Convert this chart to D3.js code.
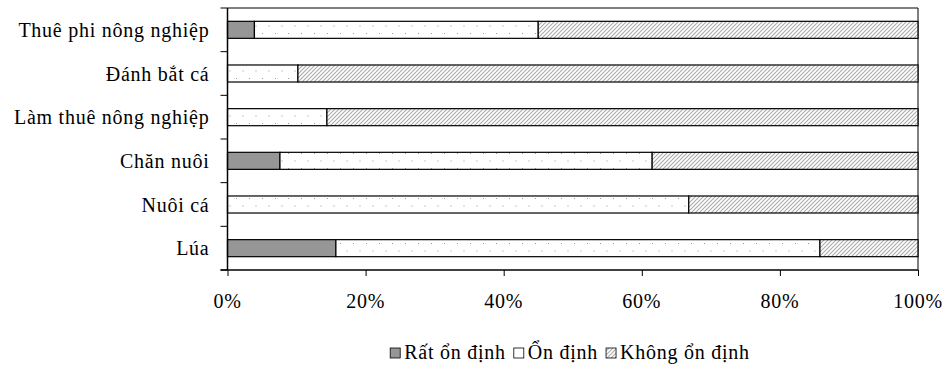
<!DOCTYPE html>
<html><head><meta charset="utf-8">
<script src="https://cdn.jsdelivr.net/npm/d3@7"></script>
<style>body{margin:0;background:#fff}svg{display:block}</style>
</head><body><svg id="c" width="948" height="367"></svg>
<script>
const categories = ["Thuê phi nông nghiệp","Đánh bắt cá","Làm thuê nông nghiệp","Chăn nuôi","Nuôi cá","Lúa"];
const seriesNames = ["Rất ổn định","Ổn định","Không ổn định"];
const ratOnDinh = [3.9, 0, 0, 7.6, 0, 15.7];
const onDinh = [41.1, 10.2, 14.4, 53.9, 66.8, 70.1];
const khongOnDinh = [55.0, 89.8, 85.6, 38.5, 33.2, 14.2];
const xTicks = [0, 0.2, 0.4, 0.6, 0.8, 1.0];

const FONT = "Liberation Serif";
const FS = 20, LS = 0.75;
const svg = d3.select("#c");
const m = {l:227.5, r:918, t:8, b:270};
const defs = svg.append("defs");
const dots = defs.append("pattern").attr("id","dots").attr("patternUnits","userSpaceOnUse").attr("width",13).attr("height",15);
dots.append("rect").attr("width",13).attr("height",15).attr("fill","#fff");
dots.append("rect").attr("x",2).attr("y",3).attr("width",1).attr("height",1).attr("fill","#999");
dots.append("rect").attr("x",8.5).attr("y",10.5).attr("width",1).attr("height",1).attr("fill","#999");
const hatch = defs.append("pattern").attr("id","hatch").attr("patternUnits","userSpaceOnUse").attr("width",4).attr("height",4);
hatch.append("rect").attr("width",4).attr("height",4).attr("fill","#fff");
hatch.append("path").attr("d","M-1,1 L1,-1 M0,4 L4,0 M3,5 L5,3").attr("stroke","#aaa").attr("stroke-width",1.1);

const fills = ["#969696","url(#dots)","url(#hatch)"];
const x = d3.scaleLinear().domain([0,1]).range([m.l,m.r]);
const y = d3.scaleBand().domain(categories).range([m.t,m.b]).paddingInner(0.61).paddingOuter(0.305);

const rows = categories.map((c,i)=>({cat:c, 0:ratOnDinh[i], 1:onDinh[i], 2:khongOnDinh[i]}));
const stack = d3.stack().keys([0,1,2]).offset(d3.stackOffsetExpand)(rows);

svg.append("path").attr("d",`M${m.l},${m.t}H${m.r}V${m.b}`).attr("fill","none").attr("stroke","#000").attr("stroke-width",1);

stack.forEach((s,k)=>{
  svg.append("g").selectAll("rect").data(s.filter(d=>d[1]-d[0]>0)).join("rect")
    .attr("x",d=>x(d[0])).attr("width",d=>x(d[1])-x(d[0]))
    .attr("y",d=>y(d.data.cat)).attr("height",y.bandwidth())
    .attr("fill",fills[k]).attr("stroke","#000").attr("stroke-width",1.2);
});

function label(sel, tx, ty, anchor, txt){
  return sel.append("text").attr("x",tx).attr("y",ty)
    .attr("text-anchor",anchor).attr("font-family",FONT).attr("font-size",FS)
    .attr("letter-spacing",LS).attr("fill","#000").text(txt);
}

// y axis
const yBounds = d3.range(categories.length+1).map(i=>m.t + i*y.step());
const ya = svg.append("g");
ya.append("line").attr("x1",m.l).attr("x2",m.l).attr("y1",m.t).attr("y2",m.b).attr("stroke","#000").attr("stroke-width",1.5);
ya.selectAll("line.t").data(yBounds).join("line").attr("class","t").attr("x1",m.l-7).attr("x2",m.l).attr("y1",d=>d).attr("y2",d=>d).attr("stroke","#000");
categories.forEach(c=>label(ya, m.l-18, y(c)+y.bandwidth()/2+7, "end", c));

// x axis
const xa = svg.append("g").attr("transform",`translate(0,${m.b})`)
  .call(d3.axisBottom(x).tickValues(xTicks).tickFormat("").tickSize(6));
xa.select(".domain").attr("stroke-width",1.5).attr("d",`M${m.l-7},0H${m.r}`);
xTicks.forEach(t=>label(svg, x(t), 308, "middle", d3.format(".0%")(t)));

// legend
const leg = svg.append("g");
let lx = 0;
seriesNames.forEach((n,i)=>{
  const g = leg.append("g").attr("transform",`translate(${lx},0)`);
  g.append("rect").attr("x",0).attr("y",-11).attr("width",10).attr("height",10).attr("fill",fills[i]==="url(#dots)"?"#fff":fills[i]).attr("stroke","#000").attr("stroke-width",0.8);
  const t = label(g, 14, 0, "start", n);
  lx += 14 + t.node().getComputedTextLength() + 8;
});
const total = lx - 8;
leg.attr("transform",`translate(${570 - total/2},359)`);
</script></body></html>
